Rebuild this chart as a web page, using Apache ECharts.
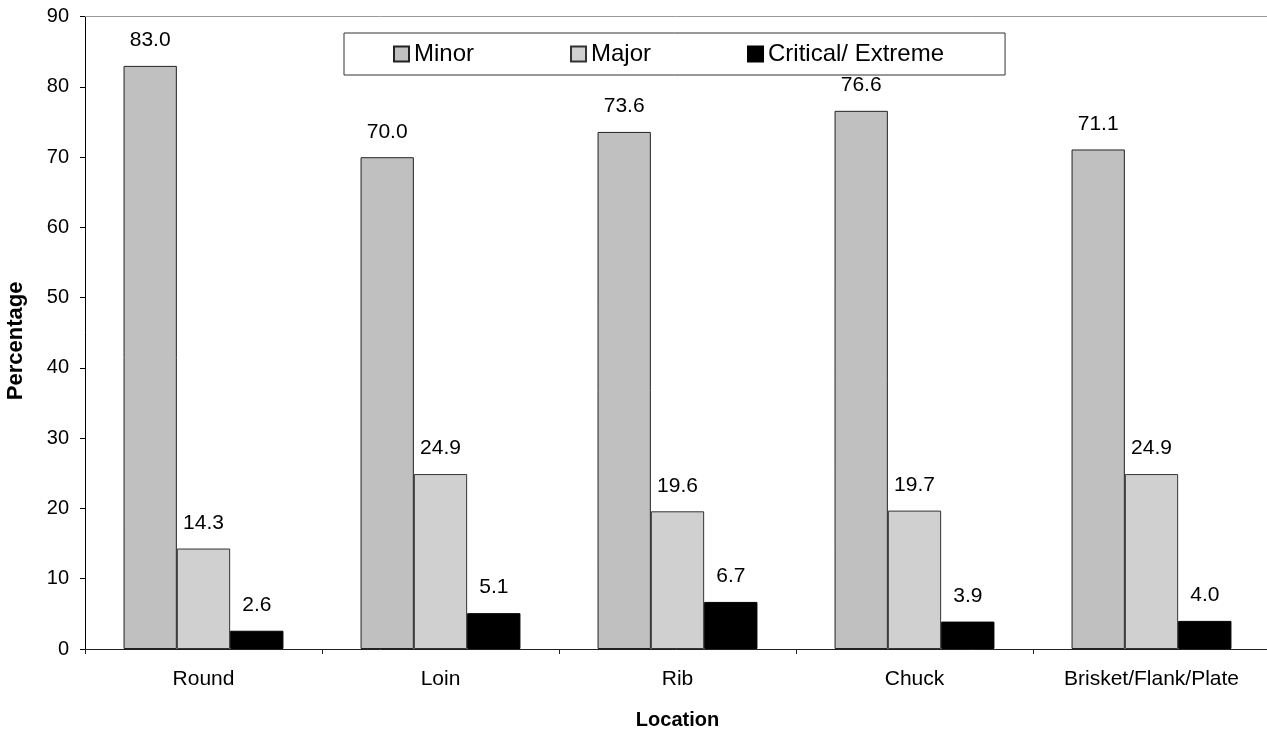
<!DOCTYPE html>
<html>
<head>
<meta charset="utf-8">
<script src="https://cdn.jsdelivr.net/npm/echarts@6/dist/echarts.min.js"></script>
<style>
  html, body { margin: 0; padding: 0; background: #fff; }
  #chart { width: 1267px; height: 733px; }
</style>
</head>
<body>
<div id="chart"></div>
<script>
// Defect severity by carcass location (percent of defects)
const locations = ['Round', 'Loin', 'Rib', 'Chuck', 'Brisket/Flank/Plate'];
const minorValues = [83.0, 70.0, 73.6, 76.6, 71.1];
const majorValues = [14.3, 24.9, 19.6, 19.7, 24.9];
const criticalValues = [2.6, 5.1, 6.7, 3.9, 4.0];
const yTicks = { min: 0, max: 90, step: 10 };

const FONT = '"Liberation Sans", Arial, sans-serif';

const valueLabel = {
  show: true,
  position: 'top',
  distance: 15,
  color: '#000',
  fontFamily: FONT,
  fontSize: 21,
  formatter: p => p.value.toFixed(1)
};

function barSeries(name, data, fill, border) {
  return {
    name: name,
    type: 'bar',
    data: data,
    barWidth: 53.3,
    barGap: '0%',
    itemStyle: { color: fill, borderColor: border, borderWidth: 1 },
    label: valueLabel,
    emphasis: { disabled: true }
  };
}

const chart = echarts.init(document.getElementById('chart'), null, { renderer: 'canvas' });

chart.setOption({
  animation: false,
  backgroundColor: '#fff',
  grid: { left: 85, top: 16.7, width: 1185, height: 632.3, containLabel: false, outerBoundsMode: 'none' },
  legend: {
    left: 344,
    top: 33,
    orient: 'horizontal',
    icon: 'rect',
    itemWidth: 15,
    itemHeight: 15,
    itemGap: 96,
    padding: [8, 61, 8, 49],
    borderColor: '#333',
    borderWidth: 1,
    backgroundColor: '#fff',
    textStyle: { fontFamily: FONT, fontSize: 24, color: '#000', lineHeight: 26 },
    data: ['Minor', 'Major', 'Critical/ Extreme']
  },
  xAxis: [
    {
      type: 'category',
      data: locations,
      position: 'bottom',
      name: 'Location',
      nameLocation: 'middle',
      nameGap: 61,
      nameTextStyle: { fontFamily: FONT, fontSize: 20, fontWeight: 'bold', color: '#000' },
      axisLine: { lineStyle: { color: '#222', width: 1 } },
      axisTick: { show: true, length: 5, lineStyle: { color: '#222' } },
      axisLabel: { margin: 20, fontFamily: FONT, fontSize: 21, color: '#000' }
    },
    {
      // thin frame line across the top of the plot
      type: 'category',
      data: locations,
      position: 'top',
      axisLine: { show: true, lineStyle: { color: '#999', width: 1 } },
      axisTick: { show: false },
      axisLabel: { show: false }
    }
  ],
  yAxis: {
    type: 'value',
    min: yTicks.min,
    max: yTicks.max,
    interval: yTicks.step,
    name: 'Percentage',
    nameLocation: 'middle',
    nameRotate: 90,
    nameGap: 58,
    nameTextStyle: { fontFamily: FONT, fontSize: 22, fontWeight: 'bold', color: '#000', padding: [0, 0, 0, -16] },
    axisLine: { show: true, lineStyle: { color: '#000', width: 1 } },
    axisTick: { show: true, length: 5, lineStyle: { color: '#000' } },
    splitLine: { show: false },
    axisLabel: { margin: 16, fontFamily: FONT, fontSize: 20, color: '#000' }
  },
  series: [
    barSeries('Minor', minorValues, '#c0c0c0', '#222'),
    barSeries('Major', majorValues, '#d0d0d0', '#333'),
    barSeries('Critical/ Extreme', criticalValues, '#000', '#000')
  ]
});
</script>
</body>
</html>
